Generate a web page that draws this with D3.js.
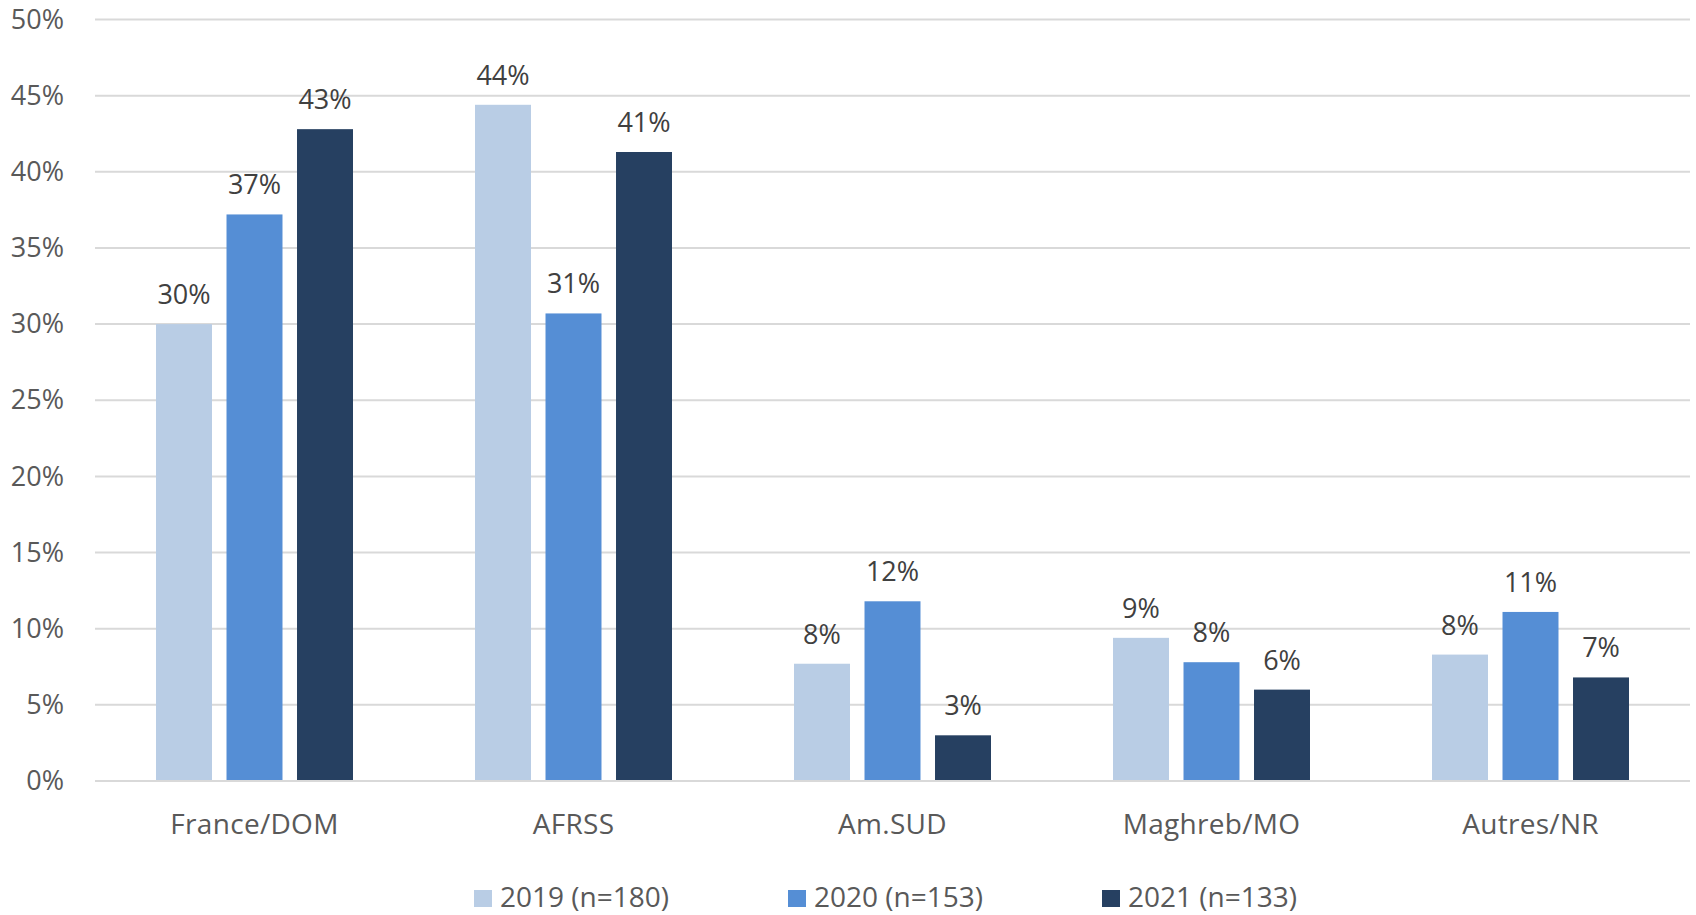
<!DOCTYPE html>
<html>
<head>
<meta charset="utf-8">
<script src="https://cdn.jsdelivr.net/npm/d3@7"></script>
<style>
  html, body { margin: 0; padding: 0; background: #ffffff; }
  svg { display: block; font-family: "Open Sans", "DejaVu Sans", sans-serif; }
</style>
</head>
<body>
<svg id="chart" width="1696" height="915"></svg>
<script>
// Regions of origin, share of cases per year (%)
const categories = ["France/DOM", "AFRSS", "Am.SUD", "Maghreb/MO", "Autres/NR"];
const seriesNames = ["2019 (n=180)", "2020 (n=153)", "2021 (n=133)"];
const values2019 = [30.0, 44.4, 7.7, 9.4, 8.3];
const values2020 = [37.2, 30.7, 11.8, 7.8, 11.1];
const values2021 = [42.8, 41.3, 3.0, 6.0, 6.8];
const yTicks = [0, 5, 10, 15, 20, 25, 30, 35, 40, 45, 50];
const colors = ["#B9CDE5", "#558ED5", "#264061"];

const seriesValues = [values2019, values2020, values2021];

const svg = d3.select("#chart");
const plotLeft = 95, plotRight = 1690, plotTop = 19.5, plotBottom = 781;

const x0 = d3.scaleBand().domain(categories).range([plotLeft, plotRight]).paddingInner(0).paddingOuter(0);
const x1 = d3.scaleBand().domain(seriesNames)
  .range([61, x0.bandwidth() - 61]).paddingInner(0.206).paddingOuter(0);
const y = d3.scaleLinear().domain([0, 50]).range([plotBottom, plotTop]);

// Horizontal gridlines
svg.append("g")
  .selectAll("line")
  .data(yTicks)
  .join("line")
  .attr("x1", plotLeft).attr("x2", plotRight)
  .attr("y1", d => y(d)).attr("y2", d => y(d))
  .attr("stroke", "#D9D9D9").attr("stroke-width", 2);

// Y axis tick labels
const yAxis = d3.axisLeft(y).tickValues(yTicks).tickFormat(d => d + "%").tickSize(0).tickPadding(0);
const gy = svg.append("g").attr("transform", "translate(64,0)").call(yAxis);
gy.select(".domain").remove();
gy.selectAll("text")
  .attr("fill", "#595959")
  .style("font-size", "27px")
  .style("font-family", "'Open Sans', sans-serif");

// Bars
const groups = svg.append("g")
  .selectAll("g")
  .data(categories)
  .join("g")
  .attr("transform", d => `translate(${x0(d)},0)`);

const cells = groups.selectAll("g.cell")
  .data((c, ci) => seriesNames.map((s, si) => ({ s, si, v: seriesValues[si][ci] })))
  .join("g").attr("class", "cell");

cells.append("rect")
  .attr("x", d => x1(d.s))
  .attr("width", x1.bandwidth())
  .attr("y", d => y(d.v))
  .attr("height", d => y(0) - y(d.v))
  .attr("fill", d => colors[d.si]);

cells.append("text")
  .attr("x", d => x1(d.s) + x1.bandwidth() / 2)
  .attr("y", d => y(d.v) - 20)
  .attr("text-anchor", "middle")
  .attr("fill", "#404040")
  .style("font-size", "27px")
  .text(d => Math.round(d.v) + "%");

// Baseline axis
svg.append("line")
  .attr("x1", plotLeft).attr("x2", plotRight)
  .attr("y1", y(0)).attr("y2", y(0))
  .attr("stroke", "#D9D9D9").attr("stroke-width", 2);

// Category labels
const xAxis = d3.axisBottom(x0).tickSize(0).tickPadding(0);
const gx = svg.append("g").attr("transform", "translate(0,814)").call(xAxis);
gx.select(".domain").remove();
gx.selectAll("text")
  .attr("fill", "#595959")
  .attr("dy", "0.71em")
  .style("font-size", "28px")
  .style("letter-spacing", "0.3px")
  .style("font-family", "'Open Sans', sans-serif");

// Legend along the lower edge
const legend = svg.append("g")
  .selectAll("g")
  .data(seriesNames)
  .join("g")
  .attr("transform", (d, i) => `translate(${474 + i * 314},890)`);

legend.append("rect")
  .attr("width", 18).attr("height", 17)
  .attr("fill", (d, i) => colors[i]);

legend.append("text")
  .attr("x", 26).attr("y", 17)
  .attr("fill", "#595959")
  .style("font-size", "28px")
  .text(d => d);
</script>
</body>
</html>
